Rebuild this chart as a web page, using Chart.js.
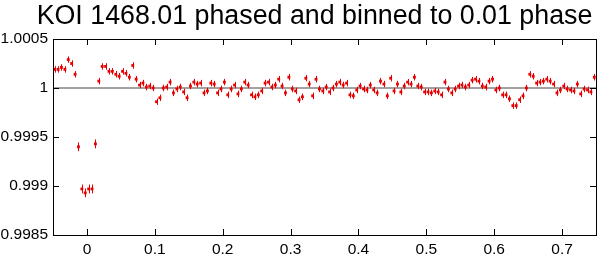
<!DOCTYPE html>
<html>
<head>
<meta charset="utf-8">
<script src="https://cdn.jsdelivr.net/npm/chart.js@4"></script>
<style>
  html, body { margin: 0; padding: 0; background: #fff; }
  #wrap { width: 600px; height: 256px; }
</style>
</head>
<body>
<div id="wrap"><canvas id="chart" width="600" height="256"></canvas></div>
<script>
 // Phase bin centres
 const phases = [
     -0.0475, -0.0425, -0.0375, -0.0325, -0.0275, -0.0225, -0.0175, -0.0125, -0.0075, -0.0025,
     0.0025, 0.0075, 0.0125, 0.0175, 0.0225, 0.0275, 0.0325, 0.0375, 0.0425, 0.0475,
     0.0525, 0.0575, 0.0625, 0.0675, 0.0725, 0.0775, 0.0825, 0.0875, 0.0925, 0.0975,
     0.1025, 0.1075, 0.1125, 0.1175, 0.1225, 0.1275, 0.1325, 0.1375, 0.1425, 0.1475,
     0.1525, 0.1575, 0.1625, 0.1675, 0.1725, 0.1775, 0.1825, 0.1875, 0.1925, 0.1975,
     0.2025, 0.2075, 0.2125, 0.2175, 0.2225, 0.2275, 0.2325, 0.2375, 0.2425, 0.2475,
     0.2525, 0.2575, 0.2625, 0.2675, 0.2725, 0.2775, 0.2825, 0.2875, 0.2925, 0.2975,
     0.3025, 0.3075, 0.3125, 0.3175, 0.3225, 0.3275, 0.3325, 0.3375, 0.3425, 0.3475,
     0.3525, 0.3575, 0.3625, 0.3675, 0.3725, 0.3775, 0.3825, 0.3875, 0.3925, 0.3975,
     0.4025, 0.4075, 0.4125, 0.4175, 0.4225, 0.4275, 0.4325, 0.4375, 0.4425, 0.4475,
     0.4525, 0.4575, 0.4625, 0.4675, 0.4725, 0.4775, 0.4825, 0.4875, 0.4925, 0.4975,
     0.5025, 0.5075, 0.5125, 0.5175, 0.5225, 0.5275, 0.5325, 0.5375, 0.5425, 0.5475,
     0.5525, 0.5575, 0.5625, 0.5675, 0.5725, 0.5775, 0.5825, 0.5875, 0.5925, 0.5975,
     0.6025, 0.6075, 0.6125, 0.6175, 0.6225, 0.6275, 0.6325, 0.6375, 0.6425, 0.6475,
     0.6525, 0.6575, 0.6625, 0.6675, 0.6725, 0.6775, 0.6825, 0.6875, 0.6925, 0.6975,
     0.7025, 0.7075, 0.7125, 0.7175, 0.7225, 0.7275, 0.7325, 0.7375, 0.7425, 0.7475
 ];

 // Relative flux per bin
 const flux = [
     1.00019, 1.00019, 1.00021, 1.00019, 1.00029, 1.00025, 1.00014, 0.99940, 0.99897, 0.99893,
     0.99897, 0.99897, 0.99943, 1.00007, 1.00022, 1.00022, 1.00017, 1.00017, 1.00014, 1.00012,
     1.00017, 1.00015, 1.00011, 1.00023, 1.00009, 1.00003, 1.00005, 1.00001, 1.00002, 1.00000,
     0.99986, 0.99990, 1.00000, 1.00001, 1.00006, 0.99995, 0.99999, 1.00001, 0.99996, 0.99990,
     1.00002, 1.00006, 1.00004, 1.00005, 0.99995, 0.99997, 1.00005, 1.00004, 0.99995, 0.99999,
     1.00006, 0.99993, 0.99999, 1.00003, 0.99994, 0.99999, 1.00006, 1.00003, 0.99993, 0.99991,
     0.99993, 0.99997, 1.00005, 1.00006, 1.00001, 1.00003, 1.00009, 1.00002, 0.99995, 1.00011,
     0.99999, 0.99997, 0.99988, 0.99991, 1.00010, 1.00004, 0.99992, 1.00009, 0.99999, 0.99997,
     1.00001, 0.99996, 1.00000, 1.00004, 1.00006, 1.00003, 1.00005, 0.99993, 0.99992, 0.99998,
     1.00002, 0.99999, 0.99998, 1.00003, 0.99998, 0.99995, 1.00007, 1.00004, 0.99992, 1.00010,
     0.99997, 1.00004, 0.99996, 1.00002, 1.00006, 1.00004, 1.00011, 1.00002, 1.00001, 0.99996,
     0.99996, 0.99995, 0.99997, 0.99996, 0.99993, 1.00006, 0.99999, 0.99995, 0.99999, 1.00002,
     1.00003, 1.00001, 1.00003, 1.00008, 1.00009, 1.00007, 1.00002, 1.00001, 1.00007, 1.00009,
     0.99998, 1.00000, 0.99993, 0.99993, 0.99989, 0.99982, 0.99982, 0.99988, 0.99992, 1.00000,
     1.00014, 1.00012, 1.00005, 1.00006, 1.00007, 1.00009, 1.00007, 1.00004, 0.99995, 0.99998,
     1.00002, 0.99999, 0.99998, 0.99997, 1.00004, 0.99994, 0.99999, 0.99998, 0.99996, 1.00011
 ];

 // 1-sigma error per bin
 const fluxErr = [
     0.000033, 0.000033, 0.000033, 0.000033, 0.000033, 0.000033, 0.000033, 0.000045, 0.000045, 0.000045,
     0.000045, 0.000045, 0.000045, 0.000033, 0.000033, 0.000033, 0.000033, 0.000033, 0.000033, 0.000033,
     0.000033, 0.000033, 0.000033, 0.000033, 0.000033, 0.000033, 0.000033, 0.000033, 0.000033, 0.000033,
     0.000033, 0.000033, 0.000033, 0.000033, 0.000033, 0.000033, 0.000033, 0.000033, 0.000033, 0.000033,
     0.000033, 0.000033, 0.000033, 0.000033, 0.000033, 0.000033, 0.000033, 0.000033, 0.000033, 0.000033,
     0.000033, 0.000033, 0.000033, 0.000033, 0.000033, 0.000033, 0.000033, 0.000033, 0.000033, 0.000033,
     0.000033, 0.000033, 0.000033, 0.000033, 0.000033, 0.000033, 0.000033, 0.000033, 0.000033, 0.000033,
     0.000033, 0.000033, 0.000033, 0.000033, 0.000033, 0.000033, 0.000033, 0.000033, 0.000033, 0.000033,
     0.000033, 0.000033, 0.000033, 0.000033, 0.000033, 0.000033, 0.000033, 0.000033, 0.000033, 0.000033,
     0.000033, 0.000033, 0.000033, 0.000033, 0.000033, 0.000033, 0.000033, 0.000033, 0.000033, 0.000033,
     0.000033, 0.000033, 0.000033, 0.000033, 0.000033, 0.000033, 0.000033, 0.000033, 0.000033, 0.000033,
     0.000033, 0.000033, 0.000033, 0.000033, 0.000033, 0.000033, 0.000033, 0.000033, 0.000033, 0.000033,
     0.000033, 0.000033, 0.000033, 0.000033, 0.000033, 0.000033, 0.000033, 0.000033, 0.000033, 0.000033,
     0.000033, 0.000033, 0.000033, 0.000033, 0.000033, 0.000033, 0.000033, 0.000033, 0.000033, 0.000033,
     0.000033, 0.000033, 0.000033, 0.000033, 0.000033, 0.000033, 0.000033, 0.000033, 0.000033, 0.000033,
     0.000033, 0.000033, 0.000033, 0.000033, 0.000033, 0.000033, 0.000033, 0.000033, 0.000033, 0.000033
 ];

 const xTicks = [0, 0.1, 0.2, 0.3, 0.4, 0.5, 0.6, 0.7];
 const xTickLabels = ['0', '0.1', '0.2', '0.3', '0.4', '0.5', '0.6', '0.7'];
 const yTicks = [0.9985, 0.999, 0.9995, 1, 1.0005];
 const yTickLabels = ['0.9985', '0.999', '0.9995', '1', '1.0005'];
 const refLine = [{x: -0.05, y: 1}, {x: 0.75, y: 1}];
 const titleText = 'KOI 1468.01 phased and binned to 0.01 phase';

 const red = 'rgb(232, 0, 0)';
 const font = "'Liberation Sans', Arial, sans-serif";

 // Error bars
 const errorBars = {
     id: 'errorBars',
     afterDatasetsDraw(chart) {
         const ctx = chart.ctx;
         const xs = chart.scales.x, ys = chart.scales.y;
         ctx.save();
         ctx.strokeStyle = red;
         ctx.lineWidth = 1;
         phases.forEach((p, i) => {
             const px = Math.round(xs.getPixelForValue(p)) + 0.5;
             ctx.beginPath();
             ctx.moveTo(px, ys.getPixelForValue(flux[i] - fluxErr[i]));
             ctx.lineTo(px, ys.getPixelForValue(flux[i] + fluxErr[i]));
             ctx.stroke();
         });
         ctx.restore();
     }
 };

 // gnuplot-like frame with inward ticks on all sides, plus the title
 const frame = {
     id: 'frame',
     afterDraw(chart) {
         const ctx = chart.ctx;
         const a = chart.chartArea;
         const xs = chart.scales.x, ys = chart.scales.y;
         const tick = 6;
         ctx.save();
         ctx.strokeStyle = '#000';
         ctx.lineWidth = 1;
         ctx.strokeRect(Math.round(a.left) + 0.5, Math.round(a.top) + 0.5,
             Math.round(a.right - a.left), Math.round(a.bottom - a.top));
         ctx.beginPath();
         xTicks.forEach(v => {
             const px = Math.round(xs.getPixelForValue(v)) + 0.5;
             ctx.moveTo(px, a.bottom); ctx.lineTo(px, a.bottom - tick);
             ctx.moveTo(px, a.top); ctx.lineTo(px, a.top + tick);
         });
         yTicks.forEach(v => {
             const py = Math.round(ys.getPixelForValue(v)) + 0.5;
             ctx.moveTo(a.left, py); ctx.lineTo(a.left + tick, py);
             ctx.moveTo(a.right, py); ctx.lineTo(a.right - tick, py);
         });
         ctx.stroke();

         ctx.fillStyle = '#000';
         ctx.font = '26.8px ' + font;
         ctx.textAlign = 'center';
         ctx.textBaseline = 'middle';
         ctx.fillText(titleText, 314.5, 17.1);
         ctx.restore();
     }
 };

 new Chart(document.getElementById('chart').getContext('2d'), {
     data: {
         datasets: [
             {
                 type: 'line',
                 data: refLine,
                 borderColor: '#444',
                 borderWidth: 1,
                 pointRadius: 0,
                 order: 2
             },
             {
                 type: 'scatter',
                 data: phases.map((p, i) => ({x: p, y: flux[i]})),
                 backgroundColor: red,
                 borderWidth: 0,
                 pointStyle: 'rect',
                 pointRadius: 2,
                 order: 1
             }
         ]
     },
     options: {
         responsive: false,
         animation: false,
         events: [],
         layout: {padding: {left: 0, right: 2, top: 39, bottom: 0}},
         plugins: {
             legend: {display: false},
             tooltip: {enabled: false},
             title: {display: false}
         },
         scales: {
             x: {
                 type: 'linear',
                 min: -0.05,
                 max: 0.75,
                 grid: {display: false, drawTicks: false},
                 border: {display: false},
                 afterBuildTicks: s => { s.ticks = xTicks.map(v => ({value: v})); },
                 afterFit: s => { s.height = 21; },
                 ticks: {
                     color: '#000',
                     font: {family: font, size: 15.5},
                     padding: 5,
                     maxRotation: 0,
                     callback: v => xTickLabels[xTicks.indexOf(v)]
                 }
             },
             y: {
                 type: 'linear',
                 min: 0.9985,
                 max: 1.0005,
                 grid: {display: false, drawTicks: false},
                 border: {display: false},
                 afterBuildTicks: s => { s.ticks = yTicks.map(v => ({value: v})); },
                 afterFit: s => { s.width = 53; },
                 ticks: {
                     color: '#000',
                     font: {family: font, size: 15.5},
                     padding: 5,
                     callback: v => yTickLabels[yTicks.indexOf(v)]
                 }
             }
         }
     },
     plugins: [errorBars, frame]
 });
</script>
</body>
</html>
